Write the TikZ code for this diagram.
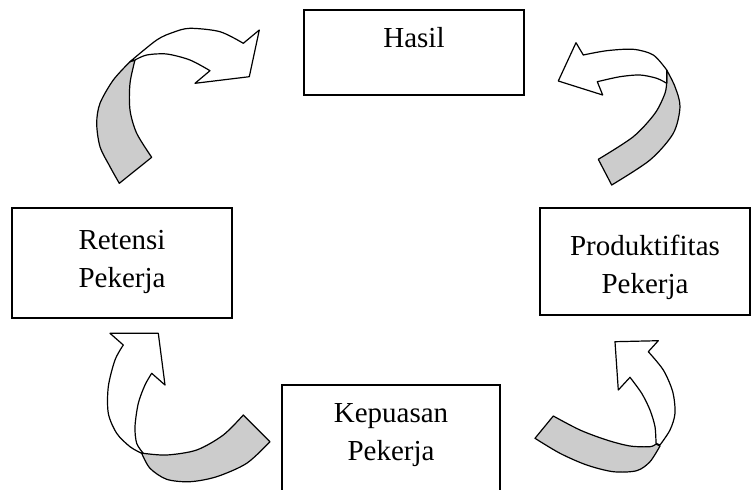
\documentclass[tikz,border=0pt]{standalone}
\usepackage{fontspec}
\setmainfont{Liberation Serif}
\usetikzlibrary{positioning}
\definecolor{backgrey}{RGB}{204,204,204}
\tikzset{
  box/.style={draw, line width=0.8pt, inner sep=0pt},
  txt/.style={align=center, inner sep=0pt, font=\fontsize{14.5}{19}\selectfont},
  bandfront/.style={draw, fill=white, line width=0.6pt, line join=round},
  bandback/.style={draw, fill=backgrey, line width=0.6pt, line join=round},
}
\begin{document}
\begin{tikzpicture}[x=0.5pt, y={(0pt,-0.5pt)}]
\useasboundingbox (0,0) rectangle (752,489);
\clip (0,0) rectangle (752,489);

\node[box, minimum width=110pt, minimum height=42.5pt] (hasil) at (414,52.5) {};
\node[txt, below=9pt of hasil.north] (hasil-t) {Hasil};
\node[box, minimum width=110pt, minimum height=55pt] (retensi) at (122,263) {};
\node[txt, below=11.5pt of retensi.north] (retensi-t) {Retensi\\Pekerja};
\node[box, minimum width=105pt, minimum height=53.5pt] (produk) at (645,261.5) {};
\node[txt, below=13.5pt of produk.north] (produk-t) {Produktifitas\\Pekerja};
\node[box, minimum width=109pt, minimum height=67.5pt] (kepuasan) at (391,452.5) {};
\node[txt, below=9.5pt of kepuasan.north] (kepuasan-t) {Kepuasan\\Pekerja};

% retensi -> hasil
\path[bandback] plot[smooth] coordinates {(130,61.7) (113.3,80) (100,103.3) (96.7,123.3) (100,146.7) (110,166.7) (119.3,183.3)}
  -- (151.7,157.3) -- plot[smooth] coordinates {(151.7,157.3) (136.7,133.3) (130,110) (130,83.3) (135,60)} -- cycle;
\path[bandfront] plot[smooth] coordinates {(130,61.7) (156.7,40) (173.3,32.3) (190,28.3) (220,31.7) (243.3,43.3)}
  -- (259.3,30) -- (249.3,76.7) -- (195,83.3) -- (210,70.7)
  -- plot[smooth] coordinates {(210,70.7) (190,60) (166.7,54) (146.7,55) (135,60)} -- cycle;

% produktifitas -> hasil
\path[bandback] plot[smooth] coordinates {(611.7,185) (650,160) (673.3,133.3) (680,106.7) (675,86.7) (666.7,70)}
  -- plot[smooth] coordinates {(666.7,81.7) (665,93.3) (655,113.3) (633.3,136.7) (598.3,159.3)} -- cycle;
\path[bandfront] plot[smooth] coordinates {(666.7,70) (653.3,55) (633.3,49.3) (606.7,50.7) (583.3,55)}
  -- (576,42.7) -- (558.3,81) -- (602.7,95) -- (597.3,81.7)
  -- plot[smooth] coordinates {(597.3,81.7) (620,76.7) (640,75) (656.7,78.3) (666.7,83.3)} -- cycle;

% kepuasan -> retensi
\path[bandback] plot[smooth] coordinates {(143.3,453.3) (166.7,455) (196.7,450) (223.3,435) (243.3,415)}
  -- (270,441.7) -- plot[smooth] coordinates {(270,441.7) (246.7,463.3) (216.7,476.7) (190,481.7) (166.7,479.3) (150,468.3) (141.7,453.3)} -- cycle;
\path[bandfront] plot[smooth] coordinates {(141.7,453.3) (130,446.7) (116.7,433.3) (108.3,413.3) (108.3,386.7) (115,360) (123.3,345)}
  -- (110,333.3) -- (158.3,333.3) -- (165,385) -- (151.7,373.3)
  -- plot[smooth] coordinates {(151.7,373.3) (145,385) (138.3,403.3) (135,426.7) (136.7,443.3) (143.3,453.3)} -- cycle;

% kepuasan -> produktifitas
\path[bandback] plot[smooth] coordinates {(553.3,416) (580,430) (606.7,440) (630,446) (650,446.7) (656,444)}
  -- plot[smooth] coordinates {(660,446) (650,461.7) (636.7,470.7) (613.3,471.7) (586.7,465) (560,453.3) (535,438.3)} -- cycle;
\path[bandfront] plot[smooth] coordinates {(648.3,351.7) (663.3,370) (672.7,391.7) (675,413.3) (670,430) (660,445)}
  -- plot[smooth] coordinates {(656,443.3) (655,426.7) (650,410) (641.7,393.3) (630,377.3)}
  -- (618.3,390) -- (615,341.7) -- (658.3,340.7) -- cycle;
\end{tikzpicture}
\end{document}
